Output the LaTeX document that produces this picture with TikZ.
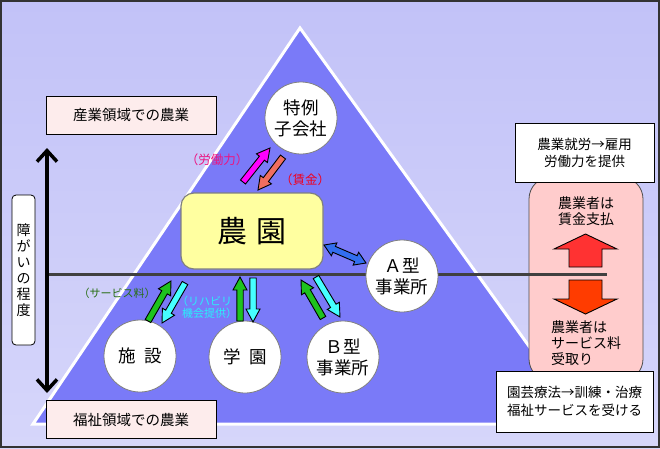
\documentclass[tikz,border=0pt]{standalone}
\usepackage{fontspec}
\setmainfont{Noto Sans CJK JP}
\usetikzlibrary{calc,arrows.meta}

\definecolor{bgtop}{RGB}{194,194,248}
\definecolor{bgbot}{RGB}{214,214,250}
\definecolor{pyramid}{RGB}{122,122,248}
\definecolor{boxpink}{RGB}{253,236,236}
\definecolor{paypink}{RGB}{255,204,204}
\definecolor{farmyellow}{RGB}{255,255,160}
\definecolor{labour}{RGB}{255,0,255}
\definecolor{wage}{RGB}{240,110,95}
\definecolor{fee}{RGB}{30,195,30}
\definecolor{rehab}{RGB}{70,255,255}
\definecolor{contract}{RGB}{50,110,240}
\definecolor{labourtxt}{RGB}{235,20,130}
\definecolor{wagetxt}{RGB}{240,0,30}
\definecolor{feetxt}{RGB}{40,110,20}
\definecolor{rehabtxt}{RGB}{40,240,250}

\tikzset{
    areabox/.style={
        draw, fill=boxpink, line width=0.8pt,
        minimum width=170pt, minimum height=38pt,
        font=\fontsize{14.5}{16}\selectfont
    },
    notebox/.style={
        draw, fill=white, line width=0.8pt, align=center,
        font=\fontsize{13.5}{17}\selectfont
    },
    unit/.style={
        circle, draw=gray, fill=white, line width=0.8pt,
        minimum size=72pt, inner sep=0pt, align=center,
        font=\fontsize{17.5}{21}\selectfont
    },
    flowlabel/.style={
        inner sep=0pt, align=left
    }
}

% block arrow: colour, from, to
\newcommand{\flowarrow}[3]{%
    \coordinate (fa-h) at ($(#3)!13pt!(#2)$);
    \filldraw[fill=#1, draw=black, line width=0.9pt]
        ($(#2)!3.2pt!90:(#3)$) -- ($(fa-h)!3.2pt!90:(#3)$)
        -- ($(fa-h)!7pt!90:(#3)$) -- (#3)
        -- ($(fa-h)!7pt!-90:(#3)$) -- ($(fa-h)!3.2pt!-90:(#3)$)
        -- ($(#2)!3.2pt!-90:(#3)$) -- cycle;
}
% block arrow with two heads
\newcommand{\twowayarrow}[3]{%
    \coordinate (fa-a) at ($(#2)!11pt!(#3)$);
    \coordinate (fa-b) at ($(#3)!11pt!(#2)$);
    \filldraw[fill=#1, draw=black, line width=0.9pt]
        (#2) -- ($(fa-a)!7pt!90:(#3)$) -- ($(fa-a)!3.2pt!90:(#3)$)
        -- ($(fa-b)!3.2pt!90:(#3)$) -- ($(fa-b)!7pt!90:(#3)$) -- (#3)
        -- ($(fa-b)!7pt!-90:(#3)$) -- ($(fa-b)!3.2pt!-90:(#3)$)
        -- ($(fa-a)!3.2pt!-90:(#3)$) -- ($(fa-a)!7pt!-90:(#3)$) -- cycle;
}

\begin{document}
\begin{tikzpicture}[x=1pt, y=-1pt]
    \useasboundingbox (0,0) rectangle (660,448);
    \shade[top color=bgtop, bottom color=bgbot] (0,0) rectangle (660,448);
    \draw[black!80, line width=2pt] (1,1) rectangle (659,447);

    % pyramid
    \filldraw[fill=pyramid, draw=white, line width=3pt]
        (300,28) -- (585,424) -- (33,424) -- cycle;

    % payment box on the right
    \node[draw=black!70, fill=paypink, line width=0.8pt, rounded corners=22pt,
          minimum width=114pt, minimum height=204pt] (pay) at (586,279) {};

    % level line and degree arrow
    \coordinate (base-l) at (47,274);
    \coordinate (base-r) at (607,274);
    \draw[black!75, line width=3pt] (base-l) -- (base-r);
    \coordinate (deg-top) at (47,148);
    \coordinate (deg-bot) at (47,393);
    \draw[line width=3.5pt, {Straight Barb[length=11pt,width=20pt]}-{Straight Barb[length=11pt,width=20pt]}]
        (deg-top) -- (deg-bot);

    \node[areabox] (industry) at (131,115) {産業領域での農業};
    \node[areabox] (welfare) at (131,419.5) {福祉領域での農業};
    \node[draw, fill=white, rounded corners=4pt, line width=0.8pt,
          minimum width=23pt, minimum height=150pt, inner sep=0pt, align=center,
          font=\fontsize{14}{16}\selectfont] (degree) at (23.5,270)
          {障\\が\\い\\の\\程\\度};

    \node[notebox, minimum width=139pt, minimum height=59pt] (employ) at (584.5,152.5)
        {農業就労→雇用\\労働力を提供};
    \node[notebox, minimum width=157pt, minimum height=61pt,
          font=\fontsize{13.5}{18}\selectfont] (therapy) at (574.5,401.5)
        {園芸療法→訓練・治療\\福祉サービスを受ける};

    \node[flowlabel, font=\fontsize{14}{15.5}\selectfont] (pay-hi) at (586,211)
        {農業者は\\賃金支払};
    \node[flowlabel, font=\fontsize{14}{16}\selectfont] (pay-lo) at (586,343)
        {農業者は\\サービス料\\受取り};
    \filldraw[fill={rgb,255:red,255;green,50;blue,50}, draw=black, line width=0.9pt]
        (569,267) -- (569,249) -- (554,249) -- (585.5,234) -- (617,249)
        -- (602,249) -- (602,267) -- cycle;
    \filldraw[fill={rgb,255:red,255;green,60;blue,0}, draw=black, line width=0.9pt]
        (569,280) -- (569,299) -- (554,299) -- (585.5,314) -- (617,299)
        -- (602,299) -- (602,280) -- cycle;

    % farm and partners
    \node[draw=gray, fill=farmyellow, line width=1.2pt, rounded corners=13pt,
          minimum width=142pt, minimum height=76pt,
          font=\fontsize{30}{32}\selectfont] (farm) at (252,231) {農\hspace{9pt}園};
    \node[unit] (sub) at (301,118) {特例\\子会社};
    \node[unit] (facility) at (140,356) {施\hspace{8pt}設};
    \node[unit] (school) at (245,357) {学\hspace{8pt}園};
    \node[unit] (typeB) at (343,357) {Ｂ型\\事業所};
    \node[unit] (typeA) at (402,276) {Ａ型\\事業所};

    % flows
    \coordinate (lab-s) at (243,182); \coordinate (lab-t) at (270,148);
    \coordinate (wag-s) at (283,157); \coordinate (wag-t) at (258,190);
    \coordinate (fa1-s) at (148,321); \coordinate (fa1-t) at (171,281);
    \coordinate (re1-s) at (185,283); \coordinate (re1-t) at (162,323);
    \coordinate (fa2-s) at (240,321); \coordinate (fa2-t) at (240,277);
    \coordinate (re2-s) at (253,278); \coordinate (re2-t) at (253,322);
    \coordinate (fa3-s) at (323,318); \coordinate (fa3-t) at (301,280);
    \coordinate (re3-s) at (316,277); \coordinate (re3-t) at (340,317);
    \coordinate (con-s) at (324,245); \coordinate (con-t) at (366,263);
    \flowarrow{labour}{lab-s}{lab-t}
    \flowarrow{wage}{wag-s}{wag-t}
    \flowarrow{fee}{fa1-s}{fa1-t}
    \flowarrow{rehab}{re1-s}{re1-t}
    \flowarrow{fee}{fa2-s}{fa2-t}
    \flowarrow{rehab}{re2-s}{re2-t}
    \flowarrow{fee}{fa3-s}{fa3-t}
    \flowarrow{rehab}{re3-s}{re3-t}
    \twowayarrow{contract}{con-s}{con-t}

    % flow labels
    \node[flowlabel, text=labourtxt, font=\fontsize{12.5}{14}\selectfont] (lab-txt) at (217,160) {（労働力）};
    \node[flowlabel, text=wagetxt, font=\fontsize{12.5}{14}\selectfont] (wag-txt) at (305,180) {（賃金）};
    \node[flowlabel, text=feetxt, font=\fontsize{11}{12}\selectfont] (fee-txt) at (117,293) {（サービス料）};
    \node[flowlabel, text=rehabtxt, font=\fontsize{11}{12}\selectfont, anchor=west] (reh-txt) at (177,307)
        {（リハビリ\\\hspace{5pt}機会提供）};
\end{tikzpicture}
\end{document}
